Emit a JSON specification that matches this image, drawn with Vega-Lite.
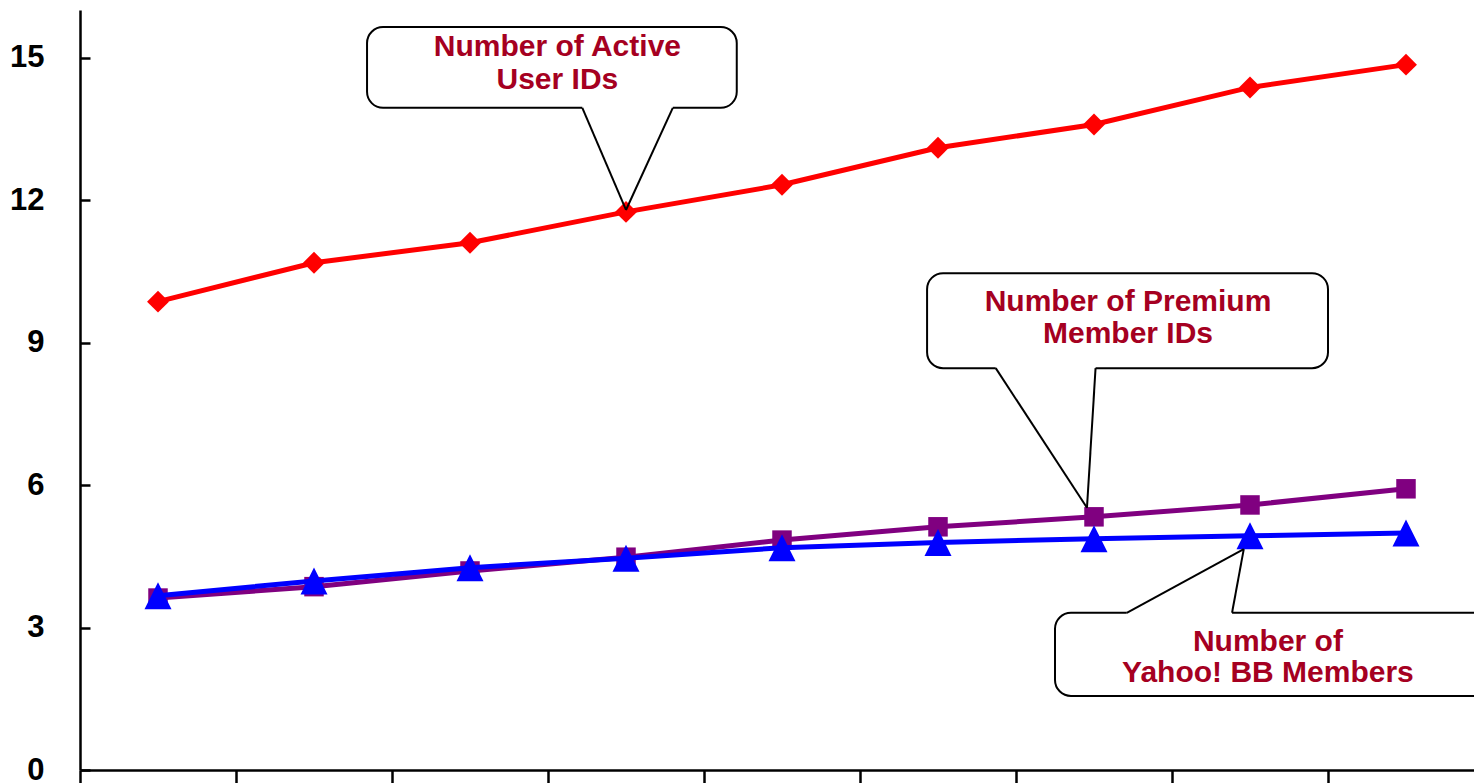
{
  "$schema": "https://vega.github.io/schema/vega-lite/v6.json",
  "width": 1404,
  "height": 760,
  "autosize": {"type": "none"},
  "padding": {"left": 80, "top": 10, "right": 0, "bottom": 13},
  "background": "white",
  "config": {
    "view": {"stroke": null},
    "font": "Liberation Sans"
  },
  "datasets": {
    "series": [
      {"series": "Active User IDs", "period": 1, "value": 9.86},
      {"series": "Active User IDs", "period": 2, "value": 10.68},
      {"series": "Active User IDs", "period": 3, "value": 11.1},
      {"series": "Active User IDs", "period": 4, "value": 11.75},
      {"series": "Active User IDs", "period": 5, "value": 12.32},
      {"series": "Active User IDs", "period": 6, "value": 13.1},
      {"series": "Active User IDs", "period": 7, "value": 13.59},
      {"series": "Active User IDs", "period": 8, "value": 14.37},
      {"series": "Active User IDs", "period": 9, "value": 14.85},
      {"series": "Premium Member IDs", "period": 1, "value": 3.62},
      {"series": "Premium Member IDs", "period": 2, "value": 3.86},
      {"series": "Premium Member IDs", "period": 3, "value": 4.19},
      {"series": "Premium Member IDs", "period": 4, "value": 4.48},
      {"series": "Premium Member IDs", "period": 5, "value": 4.84},
      {"series": "Premium Member IDs", "period": 6, "value": 5.12},
      {"series": "Premium Member IDs", "period": 7, "value": 5.33},
      {"series": "Premium Member IDs", "period": 8, "value": 5.58},
      {"series": "Premium Member IDs", "period": 9, "value": 5.92},
      {"series": "Yahoo! BB Members", "period": 1, "value": 3.67},
      {"series": "Yahoo! BB Members", "period": 2, "value": 3.98},
      {"series": "Yahoo! BB Members", "period": 3, "value": 4.26},
      {"series": "Yahoo! BB Members", "period": 4, "value": 4.46},
      {"series": "Yahoo! BB Members", "period": 5, "value": 4.68},
      {"series": "Yahoo! BB Members", "period": 6, "value": 4.79},
      {"series": "Yahoo! BB Members", "period": 7, "value": 4.87},
      {"series": "Yahoo! BB Members", "period": 8, "value": 4.93},
      {"series": "Yahoo! BB Members", "period": 9, "value": 4.99}
    ],
    "boxes": [
      {"x": 2.34, "x2": 4.71, "y": 15.64, "y2": 13.94},
      {"x": 5.93, "x2": 8.5, "y": 10.46, "y2": 8.46},
      {"x": 6.75, "x2": 9.6, "y": 3.31, "y2": 1.56}
    ],
    "gaps": [
      {"x": 3.72, "x2": 4.3, "y": 13.94, "y2": 13.94},
      {"x": 6.37, "x2": 7.01, "y": 8.46, "y2": 8.46},
      {"x": 7.21, "x2": 7.885, "y": 3.31, "y2": 3.31}
    ],
    "pointers": [
      {"x": 3.72, "y": 13.94, "x2": 4.0, "y2": 11.79},
      {"x": 4.3, "y": 13.94, "x2": 4.0, "y2": 11.79},
      {"x": 6.37, "y": 8.46, "x2": 6.955, "y2": 5.52},
      {"x": 7.01, "y": 8.46, "x2": 6.955, "y2": 5.52},
      {"x": 7.21, "y": 3.31, "x2": 7.96, "y2": 4.65},
      {"x": 7.885, "y": 3.31, "x2": 7.96, "y2": 4.65}
    ],
    "labels": [
      {"x": 3.56, "y": 15.22, "text": "Number of Active"},
      {"x": 3.56, "y": 14.53, "text": "User IDs"},
      {"x": 7.218, "y": 9.853, "text": "Number of Premium"},
      {"x": 7.218, "y": 9.179, "text": "Member IDs"},
      {"x": 8.115, "y": 2.705, "text": "Number of"},
      {"x": 8.115, "y": 2.035, "text": "Yahoo! BB Members"}
    ]
  },
  "layer": [
    {
      "data": {"name": "series"},
      "transform": [{"filter": "datum.series === 'Active User IDs'"}],
      "mark": {"type": "line", "color": "#ff0000", "strokeWidth": 5},
      "encoding": {
        "x": {
          "field": "period",
          "type": "quantitative",
          "scale": {"domain": [0.5, 9.5], "nice": false, "zero": false},
          "axis": {
            "values": [0.5, 1.5, 2.5, 3.5, 4.5, 5.5, 6.5, 7.5, 8.5, 9.5],
            "labels": false,
            "title": null,
            "grid": false,
            "domainColor": "black",
            "domainWidth": 2.5,
            "tickColor": "black",
            "tickWidth": 2.5,
            "tickSize": 13
          }
        },
        "y": {
          "field": "value",
          "type": "quantitative",
          "scale": {"domain": [0, 16], "nice": false},
          "axis": {
            "values": [0, 3, 6, 9, 12, 15],
            "title": null,
            "grid": false,
            "domainColor": "black",
            "domainWidth": 2.5,
            "tickColor": "black",
            "tickWidth": 2.5,
            "tickSize": -10,
            "labelPadding": 46,
            "labelFont": "Liberation Sans",
            "labelFontSize": 31,
            "labelFontWeight": "bold",
            "labelColor": "black"
          }
        }
      }
    },
    {
      "data": {"name": "series"},
      "transform": [{"filter": "datum.series === 'Active User IDs'"}],
      "mark": {"type": "point", "shape": "diamond", "filled": true, "color": "#ff0000", "opacity": 1, "size": 480},
      "encoding": {
        "x": {"field": "period", "type": "quantitative", "scale": {"domain": [0.5, 9.5], "nice": false, "zero": false}},
        "y": {"field": "value", "type": "quantitative", "scale": {"domain": [0, 16], "nice": false}}
      }
    },
    {
      "data": {"name": "series"},
      "transform": [{"filter": "datum.series === 'Premium Member IDs'"}],
      "mark": {"type": "line", "color": "#800080", "strokeWidth": 5},
      "encoding": {
        "x": {"field": "period", "type": "quantitative", "scale": {"domain": [0.5, 9.5], "nice": false, "zero": false}},
        "y": {"field": "value", "type": "quantitative", "scale": {"domain": [0, 16], "nice": false}}
      }
    },
    {
      "data": {"name": "series"},
      "transform": [{"filter": "datum.series === 'Premium Member IDs'"}],
      "mark": {"type": "point", "shape": "square", "filled": true, "color": "#800080", "opacity": 1, "size": 380},
      "encoding": {
        "x": {"field": "period", "type": "quantitative", "scale": {"domain": [0.5, 9.5], "nice": false, "zero": false}},
        "y": {"field": "value", "type": "quantitative", "scale": {"domain": [0, 16], "nice": false}}
      }
    },
    {
      "data": {"name": "series"},
      "transform": [{"filter": "datum.series === 'Yahoo! BB Members'"}],
      "mark": {"type": "line", "color": "#0000ff", "strokeWidth": 5},
      "encoding": {
        "x": {"field": "period", "type": "quantitative", "scale": {"domain": [0.5, 9.5], "nice": false, "zero": false}},
        "y": {"field": "value", "type": "quantitative", "scale": {"domain": [0, 16], "nice": false}}
      }
    },
    {
      "data": {"name": "series"},
      "transform": [{"filter": "datum.series === 'Yahoo! BB Members'"}],
      "mark": {"type": "point", "shape": "M0,-1L1,1L-1,1Z", "filled": true, "color": "#0000ff", "opacity": 1, "size": 729},
      "encoding": {
        "x": {"field": "period", "type": "quantitative", "scale": {"domain": [0.5, 9.5], "nice": false, "zero": false}},
        "y": {"field": "value", "type": "quantitative", "scale": {"domain": [0, 16], "nice": false}}
      }
    },
    {
      "data": {"name": "boxes"},
      "mark": {"type": "rect", "fill": "white", "stroke": "black", "strokeWidth": 2, "cornerRadius": 16},
      "encoding": {
        "x": {"field": "x", "type": "quantitative", "scale": {"domain": [0.5, 9.5], "nice": false, "zero": false}},
        "x2": {"field": "x2"},
        "y": {"field": "y", "type": "quantitative", "scale": {"domain": [0, 16], "nice": false}},
        "y2": {"field": "y2"}
      }
    },
    {
      "data": {"name": "gaps"},
      "mark": {"type": "rule", "color": "white", "strokeWidth": 4},
      "encoding": {
        "x": {"field": "x", "type": "quantitative", "scale": {"domain": [0.5, 9.5], "nice": false, "zero": false}},
        "x2": {"field": "x2"},
        "y": {"field": "y", "type": "quantitative", "scale": {"domain": [0, 16], "nice": false}},
        "y2": {"field": "y2"}
      }
    },
    {
      "data": {"name": "pointers"},
      "mark": {"type": "rule", "color": "black", "strokeWidth": 2},
      "encoding": {
        "x": {"field": "x", "type": "quantitative", "scale": {"domain": [0.5, 9.5], "nice": false, "zero": false}},
        "x2": {"field": "x2"},
        "y": {"field": "y", "type": "quantitative", "scale": {"domain": [0, 16], "nice": false}},
        "y2": {"field": "y2"}
      }
    },
    {
      "data": {"name": "labels"},
      "mark": {"type": "text", "font": "Liberation Sans", "fontSize": 30, "fontWeight": "bold", "color": "#a50021", "align": "center", "baseline": "middle"},
      "encoding": {
        "x": {"field": "x", "type": "quantitative", "scale": {"domain": [0.5, 9.5], "nice": false, "zero": false}},
        "y": {"field": "y", "type": "quantitative", "scale": {"domain": [0, 16], "nice": false}},
        "text": {"field": "text"}
      }
    }
  ]
}
